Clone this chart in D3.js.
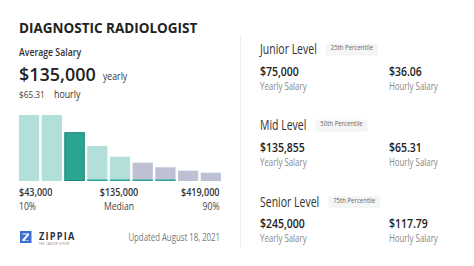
<!DOCTYPE html>
<html><head><meta charset="utf-8">
<script src="https://cdn.jsdelivr.net/npm/d3@7"></script>
<style>
html,body{margin:0;padding:0;background:#fff;}
svg{display:block;font-family:"Open Sans",sans-serif;}
</style></head>
<body>
<svg id="c" width="474" height="266"></svg>
<script>
// ---- data ----
const title = "DIAGNOSTIC RADIOLOGIST";
const avgSalary = "$135,000";
const avgHourly = "$65.31";
const bins = ["b1","b2","b3","b4","b5","b6","b7","b8","b9"];
const binHeights = [66, 66, 48.7, 35, 24.3, 18.3, 13.7, 10.3, 8.3];
const binKind = ["light","light","median","light","light","gray","gray","gray","gray"];
const binMidRange = [false,false,false,true,true,true,true,false,false];
const axisLabels = ["$43,000","$135,000","$419,000"];
const axisSubLabels = ["10%","Median","90%"];
const levels = ["Junior Level","Mid Level","Senior Level"];
const percentiles = ["25th Percentile","50th Percentile","75th Percentile"];
const yearly = ["$75,000","$135,855","$245,000"];
const hourly = ["$36.06","$65.31","$117.79"];
const updated = "Updated August 18, 2021";

const svg = d3.select("#c");
const colors = {light:"#b3dfdb", median:"#2aa594", gray:"#bdc1d3"};

// horizontally condense text to mimic the narrower original typeface
function fit(sel, r){
  const w = sel.node().getComputedTextLength();
  return sel.attr("textLength", w*r).attr("lengthAdjust","spacingAndGlyphs");
}

// left header
fit(svg.append("text").attr("x",19).attr("y",33).attr("font-size",14.5).attr("font-weight",700)
  .attr("fill","#222").text(title), 0.93);
fit(svg.append("text").attr("x",19).attr("y",56).attr("font-size",10.5).attr("font-weight",600)
  .attr("fill","#333").text("Average Salary"), 0.83);
fit(svg.append("text").attr("x",19).attr("y",81).attr("font-size",18.5).attr("font-weight",600)
  .attr("fill","#222").text(avgSalary), 0.97);
fit(svg.append("text").attr("x",103).attr("y",80).attr("font-size",10.5)
  .attr("fill","#333").text("yearly"), 0.83);
fit(svg.append("text").attr("x",19).attr("y",97.5).attr("font-size",9.5)
  .attr("fill","#444").text(avgHourly), 0.87);
fit(svg.append("text").attr("x",54).attr("y",97.5).attr("font-size",10)
  .attr("fill","#333").text("hourly"), 0.88);

// bars
const x = d3.scaleBand().domain(bins).range([19,221]).paddingInner(0.11).paddingOuter(0);
const y = d3.scaleLinear().domain([0,66]).range([181,115]);
const g = svg.append("g");
g.selectAll("rect.bar").data(bins).join("rect").attr("class","bar")
  .attr("x",d=>x(d)).attr("width",x.bandwidth())
  .attr("y",(d,i)=>y(binHeights[i])).attr("height",(d,i)=>y(0)-y(binHeights[i]))
  .attr("fill",(d,i)=>colors[binKind[i]]);
g.selectAll("rect.mb").data(bins.filter((d,i)=>binKind[i]==="median")).join("rect").attr("class","mb")
  .attr("x",d=>x(d)+0.5).attr("width",x.bandwidth()-1)
  .attr("y",d=>y(binHeights[bins.indexOf(d)])+0.5)
  .attr("height",d=>y(0)-y(binHeights[bins.indexOf(d)])-1)
  .attr("fill","none").attr("stroke","#1e8878").attr("stroke-width",1);
g.selectAll("rect.rng").data(bins.filter((d,i)=>binMidRange[i])).join("rect").attr("class","rng")
  .attr("x",d=>x(d)).attr("width",x.bandwidth())
  .attr("y",y(0)-1.5).attr("height",1.5).attr("fill","#2aa594");

// axis labels
const anchors = ["start","middle","end"];
const lx = [19,119,219.5];
axisLabels.forEach((t,i)=>{
  fit(svg.append("text").attr("x",lx[i]).attr("y",196).attr("text-anchor",anchors[i])
    .attr("font-size",10).attr("font-weight",600).attr("fill","#333").text(t), 0.9);
  fit(svg.append("text").attr("x",lx[i]).attr("y",210).attr("text-anchor",anchors[i])
    .attr("font-size",10.5).attr("fill","#444").text(axisSubLabels[i]), 0.82);
});

// footer logo
const logo = svg.append("g").attr("transform","translate(20,231)");
logo.append("rect").attr("width",11.5).attr("height",12).attr("fill","#3b6fd6");
logo.append("path").attr("d","M2.5 2.5 H9 V4 L4.5 9.5 H9 V10 H2.5 V8.5 L7 3.5 H2.5 Z").attr("fill","#fff");
fit(svg.append("text").attr("x",39).attr("y",239.5).attr("font-size",10).attr("font-weight",700)
  .attr("letter-spacing",1.3).attr("fill","#2a2f45").text("ZIPPIA"), 0.92);
fit(svg.append("text").attr("x",39).attr("y",244.5).attr("font-size",2.6).attr("letter-spacing",0.6)
  .attr("fill","#667").text("THE CAREER EXPERT"), 0.9);
fit(svg.append("text").attr("x",220).attr("y",240.5).attr("text-anchor","end").attr("font-size",10)
  .attr("fill","#777").text(updated), 0.78);

// divider
svg.append("line").attr("x1",240.5).attr("x2",240.5).attr("y1",35).attr("y2",248)
  .attr("stroke","#ececec").attr("stroke-width",1);

// right panels
const levelTops = [54,130,206.5];
levels.forEach((lv,i)=>{
  const gy = levelTops[i];
  const t = fit(svg.append("text").attr("x",260).attr("y",gy).attr("font-size",13.8)
    .attr("fill","#333").text(lv), 0.76);
  const w = +t.attr("textLength");
  const bx = 260 + w + 9;
  const bt = fit(svg.append("text").attr("x",bx+5).attr("y",gy-3.8).attr("font-size",7)
    .attr("fill","#666").text(percentiles[i]), 0.86);
  const bw = +bt.attr("textLength") + 10;
  svg.insert("rect","text").attr("x",bx).attr("y",gy-10.5).attr("width",bw).attr("height",12)
    .attr("rx",2).attr("fill","#f4f5f6");
  fit(svg.append("text").attr("x",260).attr("y",gy+21.5).attr("font-size",12.2).attr("font-weight",600)
    .attr("fill","#222").text(yearly[i]), 0.86);
  fit(svg.append("text").attr("x",260).attr("y",gy+35.5).attr("font-size",10.5)
    .attr("fill","#888").text("Yearly Salary"), 0.75);
  fit(svg.append("text").attr("x",389).attr("y",gy+21.5).attr("font-size",12.2).attr("font-weight",600)
    .attr("fill","#222").text(hourly[i]), 0.86);
  fit(svg.append("text").attr("x",389).attr("y",gy+35.5).attr("font-size",10.5)
    .attr("fill","#888").text("Hourly Salary"), 0.75);
});
</script>
</body></html>
